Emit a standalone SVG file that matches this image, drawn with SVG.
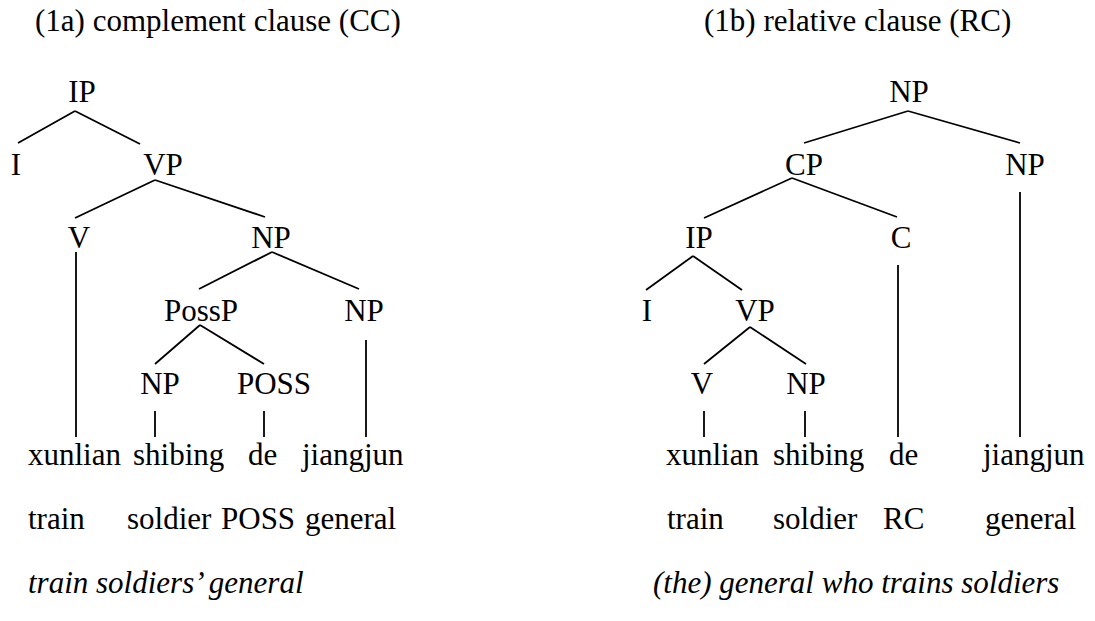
<svg xmlns="http://www.w3.org/2000/svg" width="1095" height="621" viewBox="0 0 1095 621">
<style>
text{font-family:"Liberation Serif",Tinos,"Nimbus Roman","Nimbus Roman No9 L","Noto Serif",FreeSerif,"DejaVu Serif","Times New Roman",Times,serif;font-size:31px;fill:#000}
.n{text-anchor:middle}
.it{font-style:italic}
#connectors line{stroke:#000;stroke-width:1.8;stroke-linecap:butt}
</style>
<rect width="1095" height="621" fill="#fff"/>
<g id="titles">
<text x="35" y="31">(1a) complement clause (CC)</text>
<text x="704" y="31">(1b) relative clause (RC)</text>
</g>
<g id="connectors">
<line x1="75" y1="111" x2="18" y2="143"/>
<line x1="75" y1="111" x2="140" y2="144"/>
<line x1="155" y1="180" x2="75" y2="218"/>
<line x1="155" y1="180" x2="265" y2="217"/>
<line x1="272" y1="252" x2="199" y2="289"/>
<line x1="272" y1="252" x2="359" y2="289"/>
<line x1="200" y1="325" x2="155" y2="364"/>
<line x1="200" y1="325" x2="264" y2="364"/>
<line x1="76" y1="252" x2="76" y2="437"/>
<line x1="366" y1="340" x2="366" y2="437"/>
<line x1="155" y1="411" x2="155" y2="437"/>
<line x1="264" y1="411" x2="264" y2="437"/>
<line x1="908" y1="111" x2="804" y2="143"/>
<line x1="908" y1="111" x2="1020" y2="143"/>
<line x1="792" y1="178" x2="704" y2="218"/>
<line x1="792" y1="178" x2="897" y2="217"/>
<line x1="693" y1="256" x2="646" y2="290"/>
<line x1="693" y1="256" x2="742" y2="290"/>
<line x1="750" y1="327" x2="704" y2="364"/>
<line x1="750" y1="327" x2="806" y2="364"/>
<line x1="704" y1="411" x2="704" y2="437"/>
<line x1="805" y1="411" x2="805" y2="437"/>
<line x1="898" y1="265" x2="898" y2="437"/>
<line x1="1020" y1="192" x2="1020" y2="437"/>
</g>
<g id="a-IP"><text class="n" x="82" y="102">IP</text></g>
<g id="a-I"><text class="n" x="16" y="175">I</text></g>
<g id="a-VP"><text class="n" x="163" y="175">VP</text></g>
<g id="a-V"><text class="n" x="79" y="248">V</text></g>
<g id="a-NP1"><text class="n" x="271" y="248">NP</text></g>
<g id="a-PossP"><text class="n" x="201" y="321">PossP</text></g>
<g id="a-NP2"><text class="n" x="364" y="321">NP</text></g>
<g id="a-NP3"><text class="n" x="160" y="394">NP</text></g>
<g id="a-POSS"><text class="n" x="274" y="394">POSS</text></g>
<g id="a-words">
<text x="28" y="465">xunlian</text>
<text x="133" y="465">shibing</text>
<text x="248" y="465">de</text>
<text x="302" y="465">jiangjun</text>
<text x="28" y="529">train</text>
<text x="127" y="529">soldier</text>
<text x="221" y="529">POSS</text>
<text x="305" y="529">general</text>
<text class="it" x="28" y="593">train soldiers’ general</text>
</g>
<g id="b-NP"><text class="n" x="909" y="102">NP</text></g>
<g id="b-CP"><text class="n" x="804" y="175">CP</text></g>
<g id="b-NP2"><text class="n" x="1025" y="175">NP</text></g>
<g id="b-IP"><text class="n" x="699" y="248">IP</text></g>
<g id="b-C"><text class="n" x="901" y="248">C</text></g>
<g id="b-I"><text class="n" x="647" y="321">I</text></g>
<g id="b-VP"><text class="n" x="755" y="321">VP</text></g>
<g id="b-V"><text class="n" x="702" y="394">V</text></g>
<g id="b-NP3"><text class="n" x="806" y="394">NP</text></g>
<g id="b-words">
<text x="666" y="465">xunlian</text>
<text x="773" y="465">shibing</text>
<text x="889" y="465">de</text>
<text x="983" y="465">jiangjun</text>
<text x="667" y="529">train</text>
<text x="773" y="529">soldier</text>
<text x="883" y="529">RC</text>
<text x="985" y="529">general</text>
<text class="it" x="653" y="593">(the) general who trains soldiers</text>
</g>
</svg>
